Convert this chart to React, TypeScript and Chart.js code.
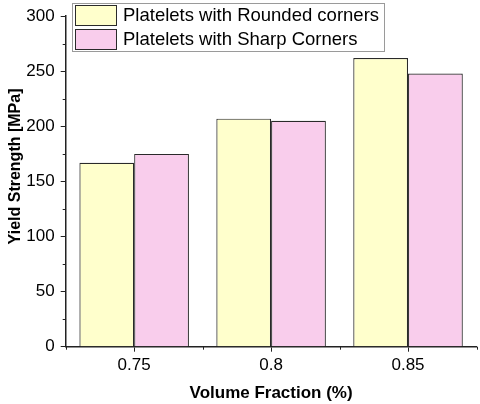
import React, { useEffect, useRef } from "react";
import { Chart, registerables } from "chart.js";

Chart.register(...registerables);

const categories = ["0.75", "0.8", "0.85"];
const roundedValues = [167, 207, 262];
const sharpValues = [175, 205, 248];
const seriesNames = ["Platelets with Rounded corners", "Platelets with Sharp Corners"];
const seriesColors = ["#FFFFCC", "#F9CDEC"];
const yMin = 0;
const yMax = 300;
const yMajorStep = 50;
const yMinorStep = 25;
const xTitle = "Volume Fraction (%)";
const yTitle = "Yield Strength [MPa]";

const FONT = "'Liberation Sans', Arial, Helvetica, sans-serif";
const AXIS_COLOR = "#222";
const BAR_BORDER = "#2a2a2a";

const minorTicksPlugin = {
  id: "minorTicks",
  afterDraw(chart: any) {
    const ctx = chart.ctx;
    const xs = chart.scales.x;
    const ys = chart.scales.y;
    ctx.save();
    ctx.strokeStyle = AXIS_COLOR;
    ctx.lineWidth = 1;
    ctx.beginPath();
    for (let v = yMin + yMinorStep; v < yMax; v += yMajorStep) {
      const py = Math.round(ys.getPixelForValue(v)) + 0.5;
      ctx.moveTo(ys.right - 3, py);
      ctx.lineTo(ys.right, py);
    }
    const half = (xs.getPixelForValue(1) - xs.getPixelForValue(0)) / 2;
    for (let i = 0; i <= categories.length; i++) {
      const px = Math.round(xs.getPixelForValue(i) - half) + 0.5;
      ctx.moveTo(px, xs.top);
      ctx.lineTo(px, xs.top + 3);
    }
    ctx.stroke();
    ctx.restore();
  },
};

const yTitlePlugin = {
  id: "yTitle",
  afterDraw(chart: any) {
    const ctx = chart.ctx;
    const area = chart.chartArea;
    ctx.save();
    ctx.translate(15.5, (area.top + area.bottom) / 2 - 15);
    ctx.rotate(-Math.PI / 2);
    ctx.scale(1, 1.08);
    ctx.font = `bold 16px ${FONT}`;
    ctx.fillStyle = "#000";
    ctx.textAlign = "center";
    ctx.textBaseline = "middle";
    ctx.fillText(yTitle, 0, 0);
    ctx.restore();
  },
};

const legendPlugin = {
  id: "boxLegend",
  afterDraw(chart: any) {
    const ctx = chart.ctx;
    const bx = 72.5;
    const by = 3.5;
    const bw = 312;
    const bh = 48;
    ctx.save();
    ctx.fillStyle = "#fff";
    ctx.fillRect(bx, by, bw, bh);
    ctx.strokeStyle = "#9a9a9a";
    ctx.lineWidth = 1;
    ctx.strokeRect(bx, by, bw, bh);
    ctx.font = `18.5px ${FONT}`;
    ctx.textBaseline = "middle";
    ctx.textAlign = "left";
    chart.data.datasets.forEach((ds: any, i: number) => {
      const sy = 5.5 + i * 24;
      ctx.fillStyle = ds.backgroundColor;
      ctx.fillRect(75.5, sy, 41, 20);
      ctx.strokeStyle = BAR_BORDER;
      ctx.strokeRect(75.5, sy, 41, 20);
      ctx.fillStyle = "#000";
      ctx.fillText(ds.label, 123, sy + 10.5);
    });
    ctx.restore();
  },
};

export default function App() {
  const canvasRef = useRef<HTMLCanvasElement | null>(null);

  useEffect(() => {
    document.body.style.margin = "0";
    document.body.style.overflow = "hidden";
    const canvas = canvasRef.current;
    if (!canvas) return;
    const chart = new Chart(canvas, {
      type: "bar",
      data: {
        labels: categories,
        datasets: [
          {
            label: seriesNames[0],
            data: roundedValues,
            backgroundColor: seriesColors[0],
            borderColor: BAR_BORDER,
            borderWidth: 1.2,
          },
          {
            label: seriesNames[1],
            data: sharpValues,
            backgroundColor: seriesColors[1],
            borderColor: BAR_BORDER,
            borderWidth: 1.2,
          },
        ],
      },
      options: {
        responsive: false,
        animation: false,
        maintainAspectRatio: false,
        datasets: {
          bar: {
            categoryPercentage: 0.8,
            barPercentage: 1.0,
          },
        },
        layout: {
          padding: { top: 14, right: 3.5, left: 0, bottom: 0 },
        },
        plugins: {
          legend: { display: false },
          tooltip: { enabled: false },
          title: { display: false },
        },
        scales: {
          x: {
            type: "category",
            offset: true,
            grid: {
              display: true,
              offset: false,
              drawOnChartArea: false,
              drawTicks: true,
              tickLength: 5,
              tickColor: AXIS_COLOR,
              tickWidth: 1,
            },
            border: { display: true, color: AXIS_COLOR, width: 1.5 },
            ticks: {
              color: "#000",
              padding: 3,
              font: { family: FONT, size: 17 },
              maxRotation: 0,
            },
            title: {
              display: true,
              text: xTitle,
              color: "#000",
              font: { family: FONT, size: 17, weight: "bold" },
              padding: { top: 0, bottom: 0 },
            },
            afterFit(scale: any) {
              scale.height = 57.3;
            },
          },
          y: {
            min: yMin,
            max: yMax,
            ticks: {
              stepSize: yMajorStep,
              color: "#000",
              padding: 6,
              font: { family: FONT, size: 17 },
            },
            grid: {
              display: true,
              drawOnChartArea: false,
              drawTicks: true,
              tickLength: 5,
              tickColor: AXIS_COLOR,
              tickWidth: 1,
            },
            border: { display: true, color: AXIS_COLOR, width: 1.5 },
            title: { display: false },
            afterFit(scale: any) {
              scale.width = 65.7;
            },
          },
        },
      },
      plugins: [minorTicksPlugin, yTitlePlugin, legendPlugin],
    });
    return () => chart.destroy();
  }, []);

  return (
    <div style={{ width: 480, height: 404 }}>
      <canvas ref={canvasRef} width={480} height={404} style={{ display: "block" }} />
    </div>
  );
}
